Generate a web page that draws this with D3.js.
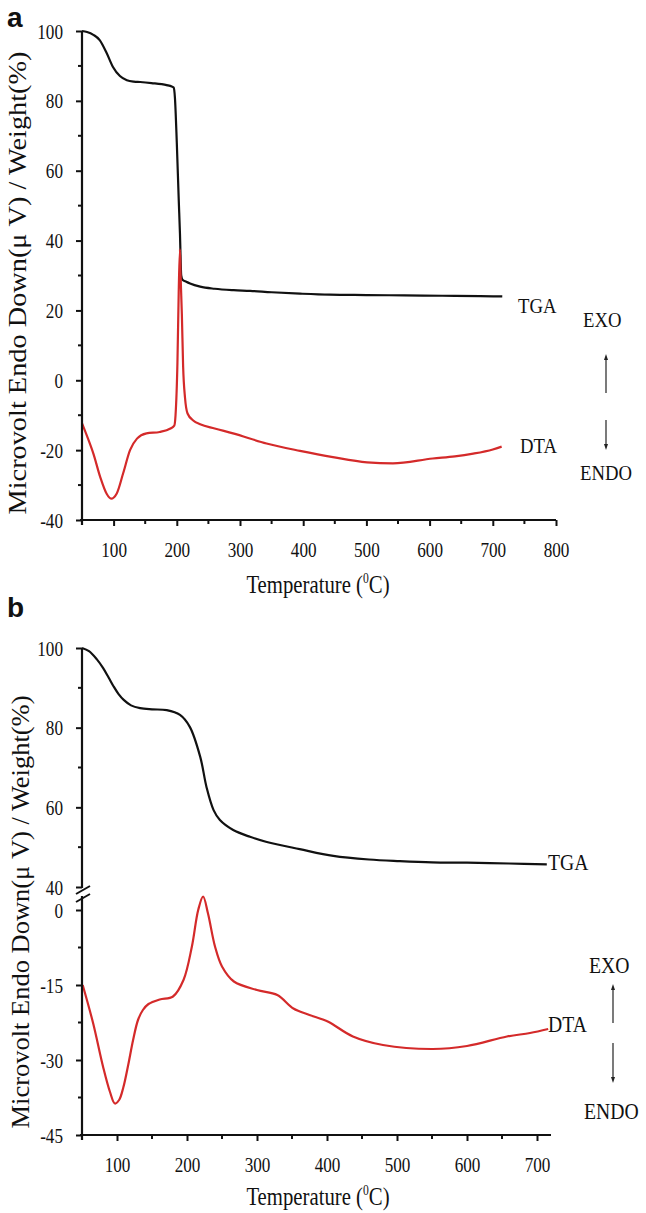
<!DOCTYPE html>
<html><head><meta charset="utf-8">
<script src="https://cdn.jsdelivr.net/npm/d3@7"></script>
<style>
html,body{margin:0;padding:0;background:#fff;}
svg{display:block;}
</style></head>
<body>
<svg id="chart" width="646" height="1213" font-family="Liberation Serif, Times New Roman, serif"></svg>
<script>
// ---------- Panel a data ----------
const aTgaT = [50,58,68,78,89,99,110,121,132,142,160,184,192,195,197,200,203,205,207,209,215,221,237,260,290,316,350,395,442,500,560,620,680,715];
const aTgaW = [100,99.7,98.9,97.4,93.7,89.7,87.1,85.9,85.5,85.4,85.1,84.5,84.1,83.8,81,68,52,42,30,28.8,28.2,27.7,26.8,26.2,25.8,25.6,25.2,24.8,24.5,24.4,24.3,24.2,24.1,24];
const aDtaT = [50,58,68,79,89,96,105,115,126,137,152,173,190,196,198,201,203,205,206,208,210,213,217,226,237,260,289,342,395,447,501,542,605,640,669,700,714];
const aDtaV = [-12.3,-16,-21,-27.8,-32.5,-33.9,-32.4,-26.7,-20,-16.7,-15.2,-14.8,-13.8,-13,-10,5,25,37.5,30,19,4,-5,-9.5,-11.5,-12.6,-13.8,-15.2,-18.1,-20.2,-22,-23.5,-23.8,-22.4,-21.8,-21,-19.8,-19];
const aXTicks = [100,200,300,400,500,600,700,800];
const aXMinor = [150,250,350,450,550,650,750];
const aYTicks = [-40,-20,0,20,40,60,80,100];
const aYMinor = [-30,-10,10,30,50,70,90];

// ---------- Panel b data ----------
const bTgaT = [50,60,71,80,88,95,102,110,120,133,150,171,190,204,219,228,238,247,266,290,314,361,409,460,504,550,600,660,714];
const bTgaW = [100,99.2,97.2,95,92.6,90.4,88.5,86.9,85.6,84.9,84.6,84.4,83.2,80.2,72.6,65,59.3,56.8,54.3,52.6,51.3,49.5,47.8,46.9,46.5,46.2,46.1,45.9,45.7];
const bDtaT = [51,66,80,90,97,103,109,116,123,130,137,145,161,180,195,207,216,223,230,240,250,267,300,329,352,375,401,437,480,551,600,657,690,716];
const bDtaV = [-15,-22.7,-31.3,-36.4,-38.7,-38,-35.5,-31,-26,-22,-20,-18.8,-17.9,-17.3,-14,-7.3,0,2.7,-0.7,-7.3,-11.3,-14.3,-16,-17,-19.7,-21,-22.3,-25.3,-27,-27.8,-27.2,-25.3,-24.6,-23.8];
const bXTicks = [100,200,300,400,500,600,700];
const bXMinor = [150,250,350,450,550,650];
const bYTopTicks = [40,60,80,100];
const bYTopMinor = [50,70,90];
const bYBotTicks = [-45,-30,-15,0];
const bYBotMinor = [-37.5,-22.5,-7.5];

const RED = "#d42a2a";
const INK = "#111";
const svg = d3.select("#chart");
const fmt = d => String(d);

// horizontal condensing of serif text via transform (keeps anchor position)
function squeeze(sel, k) {
  sel.each(function(){
    const s = d3.select(this);
    const x = +(s.attr("x") || 0);
    s.attr("x", x / k).attr("transform", `scale(${k},1)`);
  });
}
function styleAxis(g) {
  g.attr("font-family", null).attr("font-size", null);
  g.select(".domain").attr("stroke",INK).attr("stroke-width",2.2);
  g.selectAll(".tick line").attr("stroke",INK).attr("stroke-width",2);
  g.selectAll("text").attr("font-size",22).attr("fill",INK);
}
function minorTicksX(g, x, vals, y0) {
  g.selectAll(null).data(vals).join("line")
    .attr("x1", d=>x(d)).attr("x2", d=>x(d)).attr("y1", y0).attr("y2", y0+4)
    .attr("stroke",INK).attr("stroke-width",2);
}
function minorTicksY(g, y, vals, x0) {
  g.selectAll(null).data(vals).join("line")
    .attr("y1", d=>y(d)).attr("y2", d=>y(d)).attr("x1", x0).attr("x2", x0-4)
    .attr("stroke",INK).attr("stroke-width",2);
}
function arrow(g, x, y1, y2) {
  const dir = y2 < y1 ? -1 : 1;
  g.append("line").attr("x1",x).attr("x2",x).attr("y1",y1).attr("y2",y2 - dir*5)
    .attr("stroke","#222").attr("stroke-width",1.2);
  g.append("path").attr("d",`M${x-2},${y2-dir*6}L${x+2},${y2-dir*6}L${x},${y2}Z`).attr("fill","#222");
}
function xTitle(g, cx, baseline) {
  const t = g.append("text").attr("x", cx).attr("y", baseline).attr("text-anchor","middle")
    .attr("font-size",25).attr("fill",INK);
  t.append("tspan").text("Temperature (");
  t.append("tspan").attr("font-size",14).attr("dy",-10).text("0");
  t.append("tspan").attr("dy",10).text("C)");
  squeeze(t, 0.83);
}
function yTitle(g, x, yc, len) {
  g.append("text").attr("transform",`translate(${x},${yc}) rotate(-90)`)
    .attr("text-anchor","middle").attr("font-size",26).attr("fill",INK)
    .attr("textLength", len).attr("lengthAdjust","spacingAndGlyphs")
    .text("Microvolt Endo Down(\u03bc V) / Weight(%)");
}
function panelLetter(g, t, x, y) {
  g.append("text").attr("x",x).attr("y",y)
    .style("font-family","'Liberation Sans', Arial, sans-serif")
    .style("font-weight","bold").attr("font-size",28).attr("fill",INK).text(t);
}

// ================= Panel a =================
(function(){
  const g = svg.append("g");
  const x = d3.scaleLinear().domain([50,800]).range([82,556]);
  const y = d3.scaleLinear().domain([-40,100]).range([520,31]);
  const line = d3.line().x(d=>x(d[0])).y(d=>y(d[1])).curve(d3.curveMonotoneX);

  g.append("path").datum(d3.zip(aTgaT,aTgaW)).attr("d",line)
    .attr("fill","none").attr("stroke",INK).attr("stroke-width",2.2);
  g.append("path").datum(d3.zip(aDtaT,aDtaV)).attr("d",line)
    .attr("fill","none").attr("stroke",RED).attr("stroke-width",2.2);

  const xa = g.append("g").attr("transform","translate(0,520)")
    .call(d3.axisBottom(x).tickValues(aXTicks).tickSize(6).tickSizeOuter(0).tickFormat(fmt));
  styleAxis(xa);
  xa.select(".domain").attr("d",`M${x(50)-2},0H${x(800)}`);
  xa.selectAll("text").attr("y",21).attr("dy","0.71em");
  squeeze(xa.selectAll("text"),0.78);
  minorTicksX(g, x, aXMinor, 520);

  const ya = g.append("g").attr("transform","translate(82,0)")
    .call(d3.axisLeft(y).tickValues(aYTicks).tickSize(6).tickSizeOuter(0).tickPadding(13).tickFormat(fmt));
  styleAxis(ya);
  ya.select(".domain").attr("d",`M0,${y(100)}V${y(-40)+5}`);
  squeeze(ya.selectAll("text"),0.78);
  minorTicksY(g, y, aYMinor, 82);

  xTitle(g, 318, 593);
  yTitle(g, 26, 283, 463);
  panelLetter(g, "a", 7, 27);

  const lab = (t,xx,yy)=>{ const s=g.append("text").attr("x",xx).attr("y",yy).attr("font-size",22).attr("fill",INK).text(t); squeeze(s,0.85); };
  lab("TGA",518,313); lab("DTA",520,453); lab("EXO",583,327); lab("ENDO",580,480);
  arrow(g, 606, 393, 354);
  arrow(g, 606, 420, 450);
})();

// ================= Panel b =================
(function(){
  const g = svg.append("g");
  const x = d3.scaleLinear().domain([50,720]).range([82,551]);
  const yT = d3.scaleLinear().domain([40,100]).range([887,648]);
  const yB = d3.scaleLinear().domain([-45,0]).range([1135,910]);
  const lineT = d3.line().x(d=>x(d[0])).y(d=>yT(d[1])).curve(d3.curveCatmullRom.alpha(0.5));
  const lineB = d3.line().x(d=>x(d[0])).y(d=>yB(d[1])).curve(d3.curveCatmullRom.alpha(0.5));

  g.append("path").datum(d3.zip(bTgaT,bTgaW)).attr("d",lineT)
    .attr("fill","none").attr("stroke",INK).attr("stroke-width",2.2);
  g.append("path").datum(d3.zip(bDtaT,bDtaV)).attr("d",lineB)
    .attr("fill","none").attr("stroke",RED).attr("stroke-width",2.2);

  const xa = g.append("g").attr("transform","translate(0,1135)")
    .call(d3.axisBottom(x).tickValues(bXTicks).tickSize(6).tickSizeOuter(0).tickFormat(fmt));
  styleAxis(xa);
  xa.select(".domain").attr("d",`M${x(50)-2},0H${x(720)}`);
  xa.selectAll("text").attr("y",21).attr("dy","0.71em");
  squeeze(xa.selectAll("text"),0.78);
  minorTicksX(g, x, bXMinor, 1135);

  const yat = g.append("g").attr("transform","translate(82,0)")
    .call(d3.axisLeft(yT).tickValues(bYTopTicks).tickSize(6).tickSizeOuter(0).tickPadding(13).tickFormat(fmt));
  styleAxis(yat);
  yat.select(".domain").attr("d",`M0,${yT(100)}V${yT(40)+1}`);
  squeeze(yat.selectAll("text"),0.78);
  minorTicksY(g, yT, bYTopMinor, 82);

  const yab = g.append("g").attr("transform","translate(82,0)")
    .call(d3.axisLeft(yB).tickValues(bYBotTicks).tickSize(6).tickSizeOuter(0).tickPadding(13).tickFormat(fmt));
  styleAxis(yab);
  yab.select(".domain").attr("d",`M0,${yB(0)-14}V${yB(-45)+5}`);
  squeeze(yab.selectAll("text"),0.78);
  minorTicksY(g, yB, bYBotMinor, 82);

  // axis break marks
  const bk = [yT(40)+3, yT(40)+11];
  g.selectAll(null).data(bk).join("line")
    .attr("x1",76).attr("x2",90).attr("y1",d=>d+4).attr("y2",d=>d-4)
    .attr("stroke",INK).attr("stroke-width",2);

  xTitle(g, 318, 1205);
  yTitle(g, 29, 912, 433);
  panelLetter(g, "b", 7, 617);

  const lab = (t,xx,yy)=>{ const s=g.append("text").attr("x",xx).attr("y",yy).attr("font-size",24).attr("fill",INK).text(t); squeeze(s,0.82); };
  lab("TGA",548,870); lab("DTA",548,1032); lab("EXO",589,973); lab("ENDO",584,1119);
  arrow(g, 613, 1023, 984);
  arrow(g, 613, 1043, 1083);
})();
</script>
</body></html>
